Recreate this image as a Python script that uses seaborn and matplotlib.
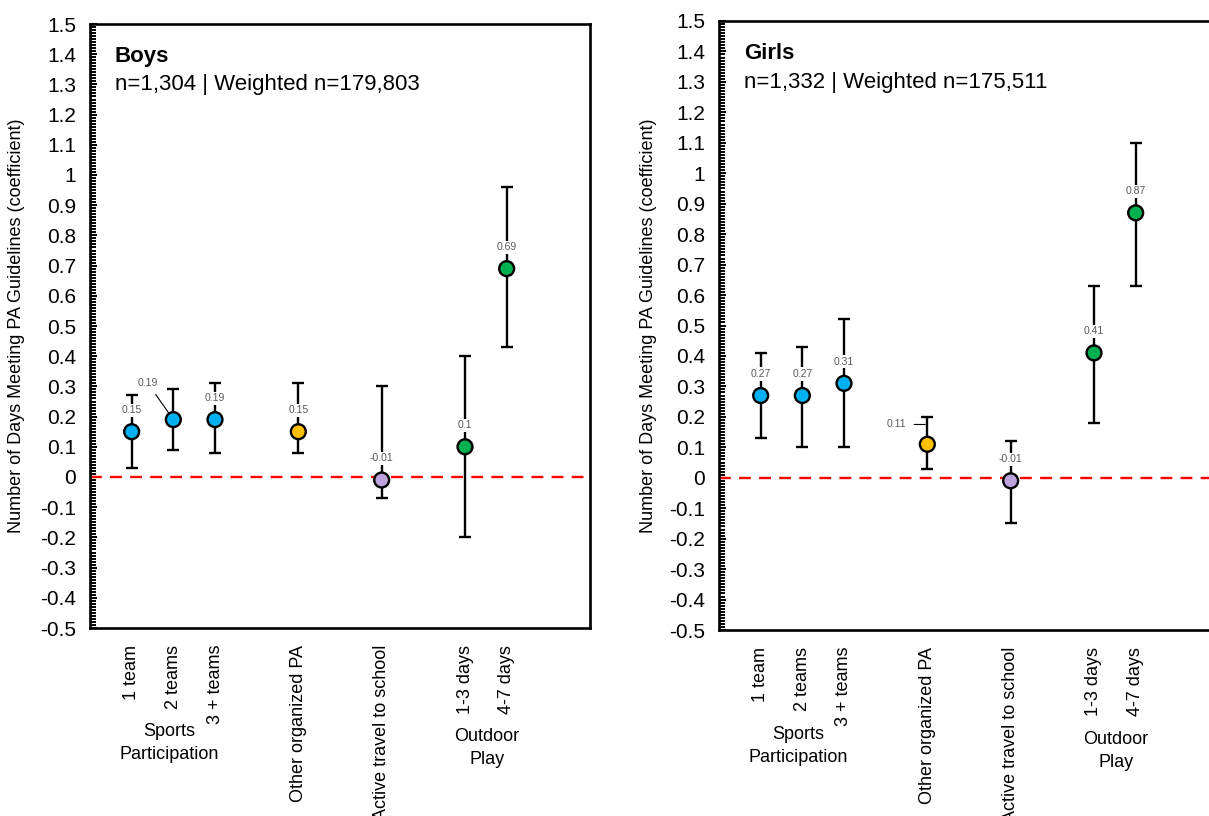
import numpy as np
import pandas as pd
import matplotlib
matplotlib.use("Agg")
import matplotlib.pyplot as plt
from matplotlib.ticker import MultipleLocator, FuncFormatter
import seaborn as sns

# categories / groups
categories = ["1 team", "2 teams", "3 + teams", "Other organized PA",
              "Active travel to school", "1-3 days", "4-7 days"]
groups = ["sports", "sports", "sports", "other", "travel", "outdoor", "outdoor"]

# Boys
boys_coef = [0.15, 0.19, 0.19, 0.15, -0.01, 0.10, 0.69]
boys_low = [0.03, 0.09, 0.08, 0.08, -0.07, -0.20, 0.43]
boys_high = [0.27, 0.29, 0.31, 0.31, 0.30, 0.40, 0.96]

# Girls
girls_coef = [0.27, 0.27, 0.31, 0.11, -0.01, 0.41, 0.87]
girls_low = [0.13, 0.10, 0.10, 0.03, -0.15, 0.18, 0.63]
girls_high = [0.41, 0.43, 0.52, 0.20, 0.12, 0.63, 1.10]

palette = {"sports": "#00B0F0", "other": "#FFC000", "travel": "#BCA3DC", "outdoor": "#00B050"}

# x positions: one slot per category, an empty slot between groups
pos = []
p = 0
for i, g in enumerate(groups):
    p += 1 if i == 0 or g == groups[i - 1] else 2
    pos.append(p)

sns.set_style("ticks")
plt.rcParams["font.family"] = ["Liberation Sans", "DejaVu Sans"]
plt.rcParams["text.color"] = "black"
plt.rcParams["axes.labelcolor"] = "black"

fig = plt.figure(figsize=(12.09, 8.16), dpi=100)
W, H = 1209, 816


def panel(rect, coef, low, high, title, subtitle, special, ylab_x):
    l, t, w, h = rect
    ax = fig.add_axes([l / W, (H - t - h) / H, w / W, h / H])
    df = pd.DataFrame({"x": pos, "coef": coef, "low": low, "high": high,
                       "group": groups, "cat": categories})
    ax.axhline(0, color="#FF0000", lw=1.7, ls=(0, (5, 3.5)), zorder=1)
    ax.errorbar(df["x"], df["coef"],
                yerr=[df["coef"] - df["low"], df["high"] - df["coef"]],
                fmt="none", ecolor="black", elinewidth=1.7, capsize=4,
                capthick=1.7, zorder=2)
    for i, r in df.iterrows():
        lab = f"{r['coef']:g}"
        if i in special:
            dx, dy, line = special[i]
            ax.annotate(lab, xy=(r["x"] - (0.05 if line == "h" else 0), r["coef"] + (dy if line == "h" else 0)),
                        xytext=(r["x"] + dx, r["coef"] + dy), textcoords="data",
                        ha="center", va="center", fontsize=7.5, color="#595959",
                        arrowprops=dict(arrowstyle="-", color="black", lw=0.8,
                                        shrinkA=3, shrinkB=6 if line != "h" else 0),
                        zorder=3)
        else:
            ax.annotate(lab, xy=(r["x"], r["coef"]), xytext=(0, 15.5),
                        textcoords="offset points", ha="center", va="center",
                        fontsize=7.5, color="#595959", zorder=3,
                        bbox=dict(boxstyle="square,pad=0.15", fc="white", ec="none"))
    sns.scatterplot(data=df, x="x", y="coef", hue="group", palette=palette,
                    s=115, edgecolor="black", linewidth=1.7, legend=False,
                    ax=ax, zorder=4)
    ax.set_xlim(0, 12)
    ax.set_ylim(-0.5, 1.5)
    ax.yaxis.set_major_locator(MultipleLocator(0.1))
    ax.yaxis.set_minor_locator(MultipleLocator(0.01))
    ax.yaxis.set_major_formatter(FuncFormatter(lambda v, _: f"{round(v, 1) + 0:g}"))
    ax.tick_params(axis="y", which="major", direction="in", length=5, width=1.5,
                   labelsize=15, pad=10, labelcolor="black", color="black")
    ax.tick_params(axis="y", which="minor", direction="in", length=4, width=1.4,
                   color="black")
    ax.set_xticks(pos, categories, rotation=90)
    ax.tick_params(axis="x", length=0, labelsize=13, pad=12, labelcolor="black")
    ax.set_xlabel("")
    ax.set_ylabel("Number of Days Meeting PA Guidelines (coefficient)", fontsize=13)
    ax.yaxis.set_label_coords(ylab_x, 0.5)
    for s in ax.spines.values():
        s.set_linewidth(1.9)
        s.set_color("black")
    ax.text(0.05, 0.937, title, transform=ax.transAxes, fontsize=16, fontweight="bold")
    ax.text(0.05, 0.89, subtitle, transform=ax.transAxes, fontsize=16)
    sports_x = np.mean([x for x, g in zip(pos, groups) if g == "sports"]) - 0.1
    out_x = np.mean([x for x, g in zip(pos, groups) if g == "outdoor"]) + 0.03
    ax.text(sports_x, -0.158, "Sports\nParticipation", transform=ax.get_xaxis_transform(),
            ha="center", va="top", fontsize=13, linespacing=1.45)
    ax.text(out_x, -0.166, "Outdoor\nPlay", transform=ax.get_xaxis_transform(),
            ha="center", va="top", fontsize=13, linespacing=1.45)
    return ax


panel((90, 24, 500, 604), boys_coef, boys_low, boys_high, "Boys",
      "n=1,304 | Weighted n=179,803", {1: (-0.62, 0.122, "d")}, -0.13)
panel((719, 21, 500, 609), girls_coef, girls_low, girls_high, "Girls",
      "n=1,332 | Weighted n=175,511", {3: (-0.73, 0.065, "h")}, -0.124)

fig.savefig("out.png", dpi=100)
